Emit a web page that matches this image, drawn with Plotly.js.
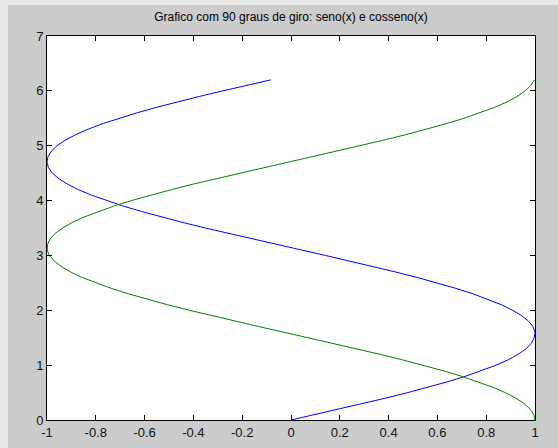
<!DOCTYPE html>
<html>
<head>
<meta charset="utf-8">
<script src="https://cdn.plot.ly/plotly-3.0.1.min.js"></script>
<style>html,body{margin:0;padding:0;background:#e9e9e9;}</style>
</head>
<body>
<div id="chart" style="width:558px;height:448px;"></div>
<script>
const yValues = [0.0,0.1,0.2,0.3,0.4,0.5,0.6,0.7,0.8,0.9,1.0,1.1,1.2,1.3,1.4,1.5,1.6,1.7,1.8,1.9,2.0,2.1,2.2,2.3,2.4,2.5,2.6,2.7,2.8,2.9,3.0,3.1,3.2,3.3,3.4,3.5,3.6,3.7,3.8,3.9,4.0,4.1,4.2,4.3,4.4,4.5,4.6,4.7,4.8,4.9,5.0,5.1,5.2,5.3,5.4,5.5,5.6,5.7,5.8,5.9,6.0,6.1,6.2];
const senoX = [0.000,0.100,0.199,0.296,0.389,0.479,0.565,0.644,0.717,0.783,0.841,0.891,0.932,0.964,0.985,0.997,1.000,0.992,0.974,0.946,0.909,0.863,0.808,0.746,0.675,0.598,0.516,0.427,0.335,0.239,0.141,0.042,-0.058,-0.158,-0.256,-0.351,-0.443,-0.530,-0.612,-0.688,-0.757,-0.818,-0.872,-0.916,-0.952,-0.978,-0.994,-1.000,-0.996,-0.982,-0.959,-0.926,-0.883,-0.832,-0.773,-0.706,-0.631,-0.551,-0.465,-0.374,-0.279,-0.182,-0.083];
const cossenoX = [1.000,0.995,0.980,0.955,0.921,0.878,0.825,0.765,0.697,0.622,0.540,0.454,0.362,0.267,0.170,0.071,-0.029,-0.129,-0.227,-0.323,-0.416,-0.505,-0.589,-0.666,-0.737,-0.801,-0.857,-0.904,-0.942,-0.971,-0.990,-0.999,-0.998,-0.987,-0.967,-0.936,-0.897,-0.848,-0.791,-0.726,-0.654,-0.575,-0.490,-0.401,-0.307,-0.211,-0.112,-0.012,0.087,0.187,0.284,0.378,0.469,0.554,0.635,0.709,0.776,0.835,0.886,0.927,0.960,0.983,0.997];
const xTicks = [-1,-0.8,-0.6,-0.4,-0.2,0,0.2,0.4,0.6,0.8,1];
const xTickLabels = ['-1','-0.8','-0.6','-0.4','-0.2','0','0.2','0.4','0.6','0.8','1'];
const yTicks = [0,1,2,3,4,5,6,7];
const titleText = 'Grafico com 90 graus de giro: seno(x) e cosseno(x)';

const traces = [
  {x: senoX, y: yValues, type: 'scatter', mode: 'lines', line: {color: '#0000ff', width: 1}, hoverinfo: 'skip'},
  {x: cossenoX, y: yValues, type: 'scatter', mode: 'lines', line: {color: '#008000', width: 1}, hoverinfo: 'skip'}
];

// plot area: left 47, right 535, top 36, bottom 420
const W = 488, H = 384;
const px = v => (v - 47) / W;
const py = v => (420 - v) / H;

const axisCommon = {
  showgrid: false, zeroline: false, showline: true, linecolor: '#000', linewidth: 1,
  mirror: 'ticks', ticks: 'inside', ticklen: 5, tickcolor: '#000', tickwidth: 1,
  tickfont: {family: 'Liberation Sans, Arial, sans-serif', size: 13, color: '#111'}
};

const layout = {
  width: 558, height: 448,
  margin: {l: 47, r: 23, t: 36, b: 28, pad: 0},
  paper_bgcolor: '#cccccc',
  plot_bgcolor: '#ffffff',
  showlegend: false,
  title: {text: titleText, font: {family: 'Liberation Sans, Arial, sans-serif', size: 12, color: '#000'},
          x: 0.5, xref: 'paper', y: 1 - 17/448, yanchor: 'middle'},
  xaxis: Object.assign({}, axisCommon, {range: [-1, 1], tickmode: 'array', tickvals: xTicks, ticktext: xTickLabels}),
  yaxis: Object.assign({}, axisCommon, {range: [0, 7], tickmode: 'array', tickvals: yTicks, ticktext: yTicks.map(String)}),
  shapes: [
    {type: 'rect', xref: 'paper', yref: 'paper', x0: px(0), x1: px(8), y0: py(448), y1: py(0), fillcolor: '#e8e8e8', line: {width: 0}, layer: 'below'},
    {type: 'rect', xref: 'paper', yref: 'paper', x0: px(0), x1: px(558), y0: py(5), y1: py(0), fillcolor: '#e8e8e8', line: {width: 0}, layer: 'below'}
  ],
  annotations: []
};

Plotly.newPlot('chart', traces, layout, {staticPlot: true, displayModeBar: false});
</script>
</body>
</html>
